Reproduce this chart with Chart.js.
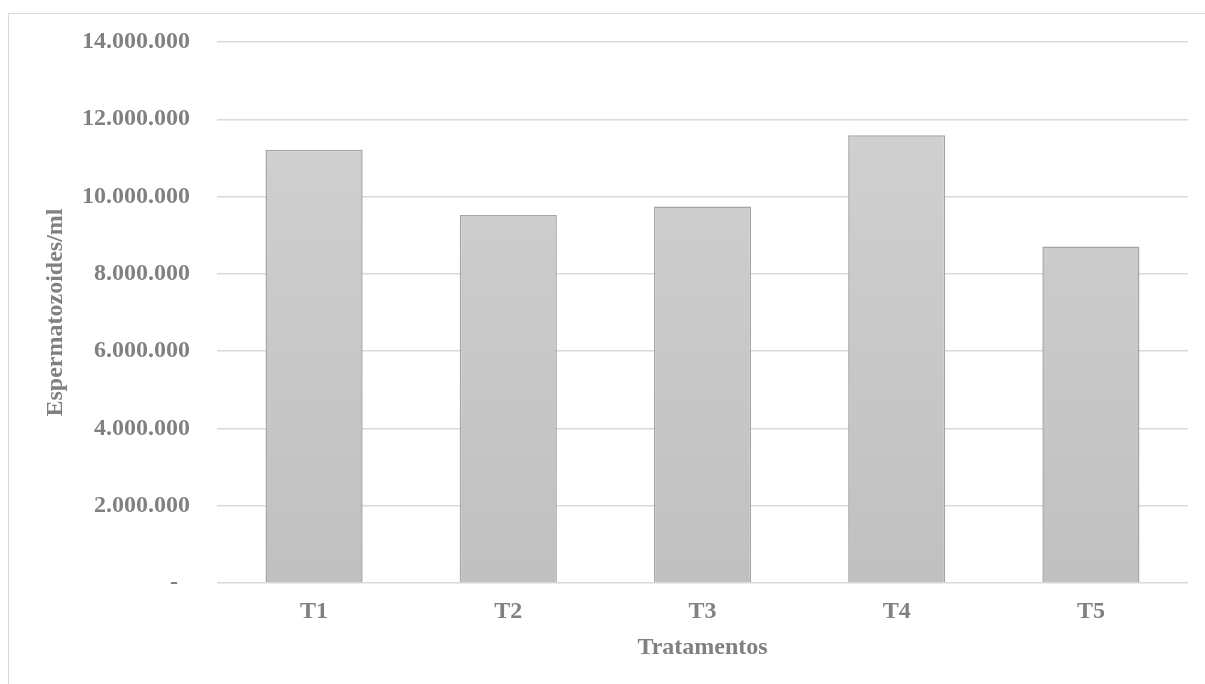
<!DOCTYPE html>
<html>
<head>
<meta charset="utf-8">
<script src="https://cdn.jsdelivr.net/npm/chart.js@4"></script>
<style>
  html, body { margin: 0; padding: 0; background: #ffffff; }
  #wrap { position: relative; width: 1205px; height: 684px; overflow: hidden; }
  #frame {
    position: absolute; left: 8px; top: 13px; width: 1300px; height: 800px;
    border-top: 1.5px solid #d9d9d9; border-left: 1.5px solid #d9d9d9;
  }
  #c { position: absolute; left: 0; top: 0; }
</style>
</head>
<body>
<div id="wrap">
  <div id="frame"></div>
  <canvas id="c" width="1205" height="684"></canvas>
</div>
<script>
// Sperm concentration per treatment
const categories = ['T1', 'T2', 'T3', 'T4', 'T5'];
const espermatozoides = [11210000, 9520000, 9740000, 11590000, 8710000];
const yTicks = [0, 2000000, 4000000, 6000000, 8000000, 10000000, 12000000, 14000000];

const textGray = '#808080';
const gridGray = '#d9d9d9';
const serifBold = { family: "'Liberation Serif', 'Times New Roman', serif", size: 24, weight: 'bold' };

function formatThousands(v) {
  if (v === 0) return '-  ';
  return String(v).replace(/\B(?=(\d{3})+(?!\d))/g, '.');
}

function barFill(context) {
  const area = context.chart.chartArea;
  if (!area) return '#c8c8c8';
  const g = context.chart.ctx.createLinearGradient(0, area.top, 0, area.bottom);
  g.addColorStop(0, '#d3d3d3');
  g.addColorStop(1, '#c0c0c0');
  return g;
}

new Chart(document.getElementById('c'), {
  type: 'bar',
  data: {
    labels: categories,
    datasets: [{
      data: espermatozoides,
      backgroundColor: barFill,
      borderColor: '#a5a5a5',
      borderWidth: 1.5,
      categoryPercentage: 1.0,
      barPercentage: 0.5
    }]
  },
  options: {
    responsive: false,
    animation: false,
    events: [],
    layout: { padding: { left: 0, top: 42, right: 17, bottom: 0 } },
    plugins: { legend: { display: false }, tooltip: { enabled: false } },
    scales: {
      x: {
        grid: { display: false, drawTicks: false },
        border: { display: false },
        ticks: { color: textGray, font: serifBold, padding: 14 },
        title: {
          display: true, text: 'Tratamentos', color: textGray, font: serifBold,
          padding: { top: 0, bottom: 22 }
        },
        afterFit(scale) { scale.height = 101; }
      },
      y: {
        min: 0,
        max: 14000000,
        afterBuildTicks(scale) { scale.ticks = yTicks.map(v => ({ value: v })); },
        grid: { color: gridGray, lineWidth: 1.5, drawTicks: false },
        border: { display: false },
        ticks: {
          color: textGray, font: serifBold, padding: 27,
          callback: (v) => formatThousands(v)
        },
        title: {
          display: true, text: 'Espermatozoides/ml', color: textGray, font: serifBold,
          padding: { top: 41, bottom: 0 }
        },
        afterFit(scale) { scale.width = 217; }
      }
    }
  }
});
</script>
</body>
</html>
